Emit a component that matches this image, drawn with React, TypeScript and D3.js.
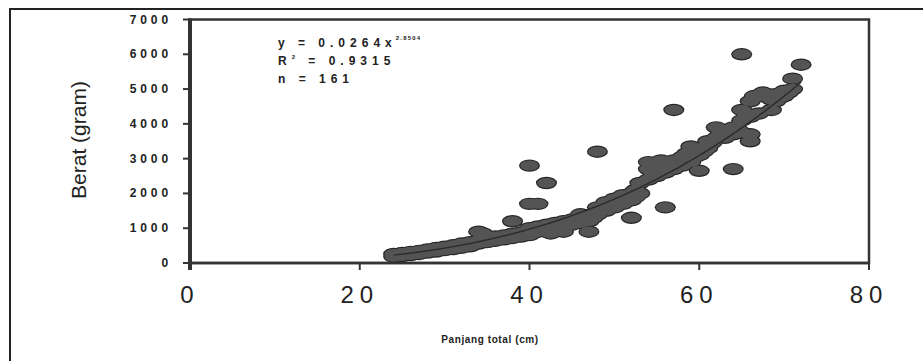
import { useEffect, useRef } from 'react';
import * as d3 from 'd3';

// Panjang total (cm) dan berat (gram) tiap ikan
const panjang = [
  24, 24, 25, 25, 26, 26, 27, 27, 28, 28, 28.5, 29, 29, 30, 30, 30.5, 31, 31, 31.5, 32, 32, 32.5, 33, 33, 33.5,
  34, 34, 34, 34.5, 34.5, 35, 35, 35.5, 36, 36, 36.5, 37, 37, 37.5, 38, 38, 38.5, 39, 39, 39.5, 40, 40, 40,
  40.5, 40.5, 41, 41, 42, 42, 42.5, 42.5, 43, 43, 44, 44, 44, 44.5, 45, 45, 46, 46, 46, 46.5, 47, 47, 47.5,
  48, 48, 48.5, 49, 49, 49.5, 50, 50, 50.5, 51, 51, 51.5, 52, 52,
  52.5, 52.5, 53, 53, 54, 54, 54, 54.5, 55, 55, 55.5, 55.5, 56, 56, 57, 57, 57.5, 58, 58, 58.5, 58.5, 59, 59, 59,
  59.5, 60, 60, 60,
  60.5, 61, 61, 61.5, 62, 62, 62.5, 63, 63, 64, 64, 64.5, 65, 65, 65, 65.5, 66, 66, 66, 66, 66.5, 67, 67, 67.5,
  68, 68.5, 68.5, 69, 69, 69.5, 70, 70, 70.5, 71, 71,
  65, 72, 57, 48, 40, 64, 42, 40, 41, 38, 47, 52, 56,
];
const berat = [
  180, 260, 200, 290, 230, 320, 260, 350, 300, 390, 340, 330, 430, 370, 470, 420, 400, 510, 460, 440, 560, 500, 480, 600, 560,
  560, 650, 900, 620, 850, 600, 700, 660, 640, 760, 700, 680, 790, 740, 720, 840, 780, 760, 880, 820, 800, 920, 1000,
  880, 1000, 900, 1050, 950, 1100, 850, 1020, 1000, 1150, 900, 1050, 1200, 1130, 1100, 1250, 1150, 1320, 1400, 1250, 1200, 1380, 1300,
  1400, 1600, 1500, 1500, 1750, 1650, 1600, 1850, 1750, 1700, 1950, 1850, 1800, 2000,
  1900, 2100, 2000, 2300, 2400, 2700, 2900, 2600, 2500, 2800, 2700, 2950, 2600, 2900, 2700, 2950, 2800, 2800, 3050, 2900, 3150, 2900, 3200, 3350,
  3050, 2650, 3100, 3300,
  3200, 3300, 3500, 3450, 3600, 3900, 3750, 3600, 3800, 3700, 3900, 3850, 3750, 4100, 4400, 4300, 3500, 3700, 4200, 4650, 4800, 4300, 4800, 4900,
  4850, 4400, 4700, 4650, 4850, 4750, 4800, 4950, 4900, 5000, 5300,
  6000, 5700, 4400, 3200, 2800, 2700, 2300, 1700, 1700, 1200, 900, 1300, 1600,
];

const xTicks = [0, 20, 40, 60, 80];
const yTicks = [0, 1000, 2000, 3000, 4000, 5000, 6000, 7000];

// koefisien garis tren y = a x^b
const koefA = 0.0264;
const pangkatB = 2.8504;
const nilaiR2 = 0.9315;
const trenDari = 24;
const trenSampai = 72;

const FONT = 'Arial, "Liberation Sans", Helvetica, sans-serif';

export default function App() {
  const chartRef = useRef<SVGSVGElement | null>(null);

  useEffect(() => {
    if (!chartRef.current) return;
    const svg = d3.select(chartRef.current);
    svg.selectAll('*').remove();

    const left = 190, right = 869, top = 19.5, bottom = 263;
    const x = d3.scaleLinear().domain([0, 80]).range([left, right]);
    const y = d3.scaleLinear().domain([0, 7000]).range([bottom, top]);

    svg.append('rect').attr('width', 923).attr('height', 361).attr('fill', '#fff');

    // bingkai luar
    svg.append('path')
      .attr('d', `M10,370 L10,9 L930,9`)
      .attr('fill', 'none')
      .attr('stroke', '#222')
      .attr('stroke-width', 2);

    // bingkai area plot
    svg.append('rect')
      .attr('x', left).attr('y', top)
      .attr('width', right - left).attr('height', bottom - top)
      .attr('fill', 'none')
      .attr('stroke', '#333')
      .attr('stroke-width', 2.5);

    const pts = panjang.map((p, i) => ({ p, b: berat[i] }));

    // titik: lapisan garis tepi lalu isi, supaya tampak menyatu
    svg.append('g').selectAll('ellipse')
      .data(pts).enter().append('ellipse')
      .attr('cx', (d) => x(d.p)).attr('cy', (d) => y(d.b))
      .attr('rx', 10.5).attr('ry', 6.2)
      .attr('fill', '#262626');
    svg.append('g').selectAll('ellipse')
      .data(pts).enter().append('ellipse')
      .attr('cx', (d) => x(d.p)).attr('cy', (d) => y(d.b))
      .attr('rx', 9.3).attr('ry', 5)
      .attr('fill', '#545454');

    // garis tren
    const tren = d3.range(trenDari, trenSampai + 0.01, 0.5);
    svg.append('path')
      .datum(tren)
      .attr('fill', 'none')
      .attr('stroke', '#2a2a2a')
      .attr('stroke-width', 1.4)
      .attr('d', d3.line<number>().x((d) => x(d)).y((d) => y(koefA * Math.pow(d, pangkatB)))(tren) ?? '');

    // sumbu kiri tebal
    svg.append('line')
      .attr('x1', left).attr('x2', left).attr('y1', top - 1).attr('y2', bottom + 7)
      .attr('stroke', '#333').attr('stroke-width', 4);
    svg.append('line')
      .attr('x1', left).attr('x2', right).attr('y1', bottom).attr('y2', bottom)
      .attr('stroke', '#333').attr('stroke-width', 2.5);

    // tick & label sumbu Y
    const gy = svg.append('g');
    gy.selectAll('line').data(yTicks).enter().append('line')
      .attr('x1', left - 7).attr('x2', left).attr('y1', (d) => y(d)).attr('y2', (d) => y(d))
      .attr('stroke', '#333').attr('stroke-width', 2);
    gy.selectAll('text').data(yTicks).enter().append('text')
      .attr('x', 172).attr('y', (d) => y(d) + 4)
      .attr('text-anchor', 'end')
      .style('font-family', FONT).style('font-size', '12px').style('font-weight', 'bold')
      .style('letter-spacing', '3.9px')
      .attr('fill', '#222')
      .text((d) => String(d));

    // tick & label sumbu X
    const gx = svg.append('g');
    gx.selectAll('line').data(xTicks).enter().append('line')
      .attr('x1', (d) => x(d)).attr('x2', (d) => x(d)).attr('y1', bottom).attr('y2', bottom + 7)
      .attr('stroke', '#333').attr('stroke-width', 2);
    gx.selectAll('text').data(xTicks).enter().append('text')
      .attr('x', (d) => x(d)).attr('y', 303)
      .attr('text-anchor', 'middle')
      .style('font-family', FONT).style('font-size', '24px')
      .style('letter-spacing', '6px')
      .attr('fill', '#222')
      .text((d) => String(d));

    // judul sumbu
    svg.append('text')
      .attr('transform', 'translate(86,140) rotate(-90)')
      .attr('text-anchor', 'middle')
      .style('font-family', FONT).style('font-size', '21px')
      .attr('fill', '#222')
      .text('Berat (gram)');
    svg.append('text')
      .attr('x', 490).attr('y', 343)
      .attr('text-anchor', 'middle')
      .style('font-family', FONT).style('font-size', '10px').style('font-weight', 'bold')
      .style('letter-spacing', '0.6px')
      .attr('fill', '#222')
      .text('Panjang total (cm)');

    // persamaan
    const eq = svg.append('g')
      .style('font-family', FONT).style('font-weight', 'bold').attr('fill', '#222');
    const t1 = eq.append('text').attr('x', 278).attr('y', 47)
      .style('font-size', '12px').style('letter-spacing', '5px');
    t1.append('tspan').text(`y = ${koefA}x`);
    t1.append('tspan').attr('dx', -1).attr('dy', -7)
      .style('font-size', '6px').style('letter-spacing', '1.2px').text(String(pangkatB));
    const t2 = eq.append('text').attr('x', 278).attr('y', 65)
      .style('font-size', '12px').style('letter-spacing', '5px');
    t2.append('tspan').text('R');
    t2.append('tspan').attr('dx', 0).attr('dy', -6).style('font-size', '6px').text('2');
    t2.append('tspan').attr('dy', 6).text(` = ${nilaiR2}`);
    eq.append('text').attr('x', 278).attr('y', 83)
      .style('font-size', '12px').style('letter-spacing', '5px')
      .text(`n = ${panjang.length}`);
  }, []);

  return (
    <svg
      ref={chartRef}
      width={923}
      height={361}
      style={{ position: 'absolute', left: 0, top: 0, display: 'block' }}
    />
  );
}
